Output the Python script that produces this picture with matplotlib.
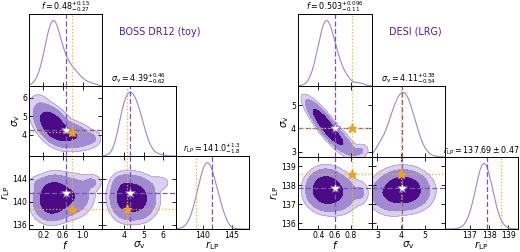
import numpy as np
import matplotlib
matplotlib.use("Agg")
import matplotlib.pyplot as plt

W, H = 520, 252

LABELS = [r"$f$", r"$\sigma_{\rm v}$", r"$r_{\rm LP}$"]

# ── BOSS DR12 (toy) posterior: small gaussian mixture ──
boss_name = "BOSS DR12 (toy)"
boss_titles = [r"$f = 0.48^{+0.15}_{-0.27}$",
               r"$\sigma_{\rm v} = 4.39^{+0.46}_{-0.62}$",
               r"$r_{\rm LP} = 141.0^{+1.3}_{-1.8}$"]
boss_weights = [0.36, 0.36, 0.26, 0.012, 0.008]
boss_means = [[0.38, 4.55, 139.9], [0.40, 4.50, 141.5], [0.74, 4.00, 140.9],
              [1.18, 3.80, 143.4], [0.10, 5.80, 143.3]]
boss_sds = [[0.16, 0.46, 1.40], [0.16, 0.46, 1.40], [0.20, 0.33, 1.60],
            [0.10, 0.22, 0.70], [0.12, 0.30, 0.70]]
boss_rho = [[-0.50, 0.05, 0.0], [-0.50, 0.05, 0.0], [-0.30, 0.10, 0.0],
            [0.0, 0.0, 0.0], [0.0, 0.0, 0.0]]     # (f-sv, f-r, sv-r)
boss_best = [0.65, 4.27, 141.5]
boss_truth = [0.79, 4.14, 138.7]
boss_ranges = [(-0.09, 1.39), (2.85, 6.65), (135.3, 148.0)]
boss_xticks = [[0.2, 0.6, 1.0], [4, 5, 6], [140, 145]]
boss_yticks = [None, [4, 5, 6], [136, 140, 144]]

# ── DESI (LRG) ──
desi_name = "DESI (LRG)"
desi_titles = [r"$f = 0.503^{+0.096}_{-0.11}$",
               r"$\sigma_{\rm v} = 4.11^{+0.38}_{-0.54}$",
               r"$r_{\rm LP} = 137.69\pm 0.47$"]
desi_weights = [0.78, 0.205, 0.015]
desi_means = [[0.49, 4.15, 137.78], [0.65, 3.55, 137.55], [0.92, 3.05, 137.6]]
desi_sds = [[0.10, 0.44, 0.44], [0.11, 0.38, 0.45], [0.05, 0.15, 0.30]]
desi_rho = [[-0.88, 0.0, -0.05], [-0.85, 0.05, 0.0], [0.0, 0.0, 0.0]]
desi_best = [0.60, 4.02, 137.87]
desi_truth = [0.82, 4.00, 138.6]
desi_ranges = [(0.15, 1.06), (2.77, 5.83), (135.7, 139.5)]
desi_xticks = [[0.4, 0.6, 0.8], [3, 4, 5], [137, 138, 139]]
desi_yticks = [None, [3, 4, 5], [136, 137, 138, 139]]

# panel edges and name label position in pixels
boss_cols = [29, 102, 176, 249]
boss_rows = [14, 86, 156, 229]
boss_name_xy = (160, 32)
desi_cols = [298, 372, 445, 518]
desi_rows = [14, 86, 157, 229]
desi_name_xy = (415, 32)

C_DARK, C_MID, C_LIGHT = "#4b0a86", "#a08ad0", "#dbd0ee"
C_LINE = "#9f86d0"
C_BEST = "#7d56b5"
C_TRUTH = "#efb040"
C_STAR = "#e6a22c"
C_TEXT = "#5a1a8e"


def _cov(sd, rho):
    r = np.array([[1, rho[0], rho[1]], [rho[0], 1, rho[2]], [rho[1], rho[2], 1]])
    return np.outer(sd, sd) * r


def pdf1d(x, i, w, mu, sd):
    out = np.zeros_like(x)
    for wk, m, s in zip(w, mu, sd):
        out += wk * np.exp(-0.5 * ((x - m[i]) / s[i]) ** 2) / (s[i] * np.sqrt(2 * np.pi))
    return out


def pdf2d(X, Y, i, j, w, mu, sd, rho):
    out = np.zeros_like(X)
    for wk, m, s, r in zip(w, mu, sd, rho):
        c = _cov(s, r)[np.ix_([i, j], [i, j])]
        ci = np.linalg.inv(c)
        dx, dy = X - m[i], Y - m[j]
        q = ci[0, 0] * dx ** 2 + 2 * ci[0, 1] * dx * dy + ci[1, 1] * dy ** 2
        out += wk * np.exp(-0.5 * q) / (2 * np.pi * np.sqrt(np.linalg.det(c)))
    return out


def _levels(i, j, ranges, w, mu, sd, rho, masses=(0.99, 0.95, 0.68)):
    # levels from a grid wider than the panel so no mass is lost off-edge
    (a, b), (c, d) = ranges[j], ranges[i]
    xs = np.linspace(a - (b - a), b + (b - a), 500)
    ys = np.linspace(c - (d - c), d + (d - c), 500)
    X, Y = np.meshgrid(xs, ys)
    z = np.sort(pdf2d(X, Y, j, i, w, mu, sd, rho).ravel())[::-1]
    cum = np.cumsum(z) * (xs[1] - xs[0]) * (ys[1] - ys[0])
    return [z[min(np.searchsorted(cum, m), len(z) - 1)] for m in masses]


def _axes(fig, cols, rows, i, j):
    x0, x1 = cols[j], cols[j + 1]
    y0, y1 = rows[i], rows[i + 1]
    return fig.add_axes([x0 / W, 1 - y1 / H, (x1 - x0) / W, (y1 - y0) / H])


def _style(ax):
    ax.tick_params(direction="in", length=3, width=0.6, labelsize=5.6, pad=1.5,
                   top=True, right=True)
    for s in ax.spines.values():
        s.set_linewidth(0.7)


def triangle(fig, cols, rows, name, name_xy, titles, w, mu, sd, rho, best,
             truth, ranges, xticks, yticks):
    n = 3
    for i in range(n):
        for j in range(i + 1):
            ax = _axes(fig, cols, rows, i, j)
            _style(ax)
            if i == j:
                x = np.linspace(*ranges[i], 400)
                p = pdf1d(x, i, w, mu, sd)
                ax.plot(x, p / p.max(), color=C_LINE, lw=0.8)
                ax.axvline(best[i], color=C_BEST, lw=0.9, ls=(0, (4, 2)))
                ax.axvline(truth[i], color=C_TRUTH, lw=0.9, ls=":")
                ax.set_ylim(0, 1.1)
                ax.set_yticks([])
                ax.tick_params(top=False, right=False, left=False)
                ax.set_title(titles[i], fontsize=5.8, pad=1.5)
            else:
                xs = np.linspace(*ranges[j], 220)
                ys = np.linspace(*ranges[i], 220)
                X, Y = np.meshgrid(xs, ys)
                Z = pdf2d(X, Y, j, i, w, mu, sd, rho)
                lv = _levels(i, j, ranges, w, mu, sd, rho)
                top = max(Z.max(), lv[-1]) * 1.01
                ax.contourf(X, Y, Z, levels=lv + [top],
                            colors=[C_LIGHT, C_MID, C_DARK])
                ax.contour(X, Y, Z, levels=lv, colors=[C_MID, C_MID, C_DARK],
                           linewidths=0.4)
                ax.axvline(best[j], color=C_BEST, lw=0.9, ls=(0, (4, 2)))
                ax.axhline(best[i], color=C_BEST, lw=0.9, ls=(0, (4, 2)))
                ax.axvline(truth[j], color=C_TRUTH, lw=0.9, ls=":")
                ax.axhline(truth[i], color=C_TRUTH, lw=0.9, ls=":")
                ax.plot(best[j], best[i], marker="*", ms=7, color="white",
                        mec=C_BEST, mew=0.4, zorder=5)
                ax.plot(truth[j], truth[i], marker="*", ms=6.5, color=C_STAR,
                        mec=C_STAR, zorder=5)
                ax.set_ylim(*ranges[i])
                ax.set_yticks(yticks[i])
                if j == 0:
                    ax.set_ylabel(LABELS[i], fontsize=7.3, labelpad=0)
                else:
                    ax.set_yticklabels([])
            ax.set_xlim(*ranges[j])
            ax.set_xticks(xticks[j])
            if i == n - 1:
                ax.set_xlabel(LABELS[j], fontsize=7.3, labelpad=-0.5)
            else:
                ax.set_xticklabels([])
    fig.text(name_xy[0] / W, 1 - name_xy[1] / H, name, color=C_TEXT,
             fontsize=6.9, ha="center", va="center")


fig = plt.figure(figsize=(W / 100, H / 100), dpi=100)
triangle(fig, boss_cols, boss_rows, boss_name, boss_name_xy, boss_titles,
         boss_weights, boss_means, boss_sds, boss_rho, boss_best, boss_truth,
         boss_ranges, boss_xticks, boss_yticks)
triangle(fig, desi_cols, desi_rows, desi_name, desi_name_xy, desi_titles,
         desi_weights, desi_means, desi_sds, desi_rho, desi_best, desi_truth,
         desi_ranges, desi_xticks, desi_yticks)
fig.savefig("out.png", dpi=100)
